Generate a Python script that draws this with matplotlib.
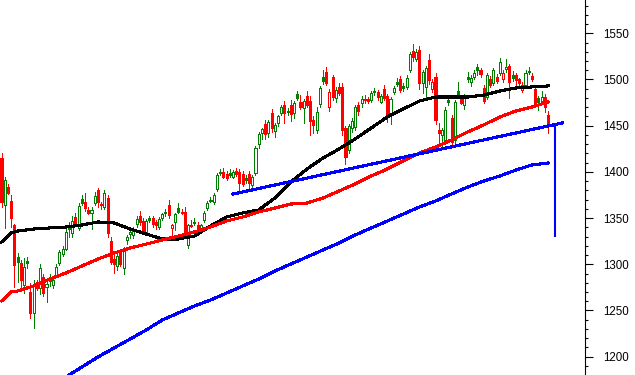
import matplotlib
matplotlib.use("Agg")
import matplotlib.pyplot as plt
from matplotlib.patches import Rectangle
from matplotlib.ticker import MultipleLocator

plt.rcParams['font.family'] = ['Liberation Sans', 'DejaVu Sans']

# ---- daily OHLC (bar index = position in list) ----
opens = [1415, 1364, 1384, 1368, 1342, 1308, 1301, 1278, 1304, 1270,
         1247, 1281, 1274, 1286, 1275, 1285, 1278, 1288, 1301, 1311,
         1317, 1341, 1334, 1351, 1339, 1371, 1367, 1359, 1356, 1366,
         1380, 1365, 1362, 1372, 1325, 1306, 1298, 1313, 1296, 1326,
         1333, 1332, 1344, 1352, 1347, 1335, 1350, 1350, 1346, 1340,
         1350, 1357, 1364, 1339, 1346, 1361, 1357, 1357, 1321, 1343,
         1346, 1343, 1339, 1348, 1361, 1370, 1367, 1381, 1400, 1400,
         1398, 1399, 1395, 1401, 1400, 1398, 1393, 1398, 1386, 1399,
         1430, 1442, 1452, 1442, 1464, 1444, 1453, 1464, 1472, 1466,
         1472, 1464, 1484, 1476, 1469, 1482, 1477, 1456, 1445, 1473,
         1503, 1508, 1470, 1503, 1480, 1492, 1492, 1447, 1424, 1447,
         1449, 1472, 1475, 1479, 1479, 1478, 1488, 1486, 1476, 1490,
         1482, 1464, 1486, 1497, 1501, 1493, 1492, 1510, 1531, 1522,
         1532, 1496, 1492, 1521, 1490, 1503, 1445, 1440, 1434, 1478,
         1458, 1434, 1488, 1480, 1472, 1503, 1497, 1503, 1513, 1510,
         1491, 1481, 1501, 1496, 1503, 1507, 1500, 1511, 1515, 1505,
         1505, 1500, 1489, 1494, 1509, 1504, 1490, 1480, 1477, 1481,
         1462]
highs = [1420, 1395, 1387, 1375, 1344, 1312, 1305, 1307, 1308, 1280,
         1283, 1283, 1300, 1290, 1281, 1290, 1285, 1300, 1316, 1320,
         1338, 1346, 1352, 1355, 1366, 1375, 1377, 1362, 1362, 1378,
         1383, 1367, 1380, 1375, 1330, 1310, 1311, 1316, 1319, 1332,
         1337, 1340, 1352, 1358, 1350, 1349, 1352, 1352, 1348, 1351,
         1356, 1360, 1370, 1344, 1356, 1366, 1360, 1362, 1344, 1348,
         1350, 1346, 1344, 1358, 1368, 1373, 1377, 1399, 1403, 1404,
         1401, 1403, 1402, 1404, 1403, 1401, 1397, 1401, 1397, 1428,
         1443, 1448, 1456, 1456, 1468, 1453, 1462, 1472, 1477, 1469,
         1478, 1477, 1487, 1483, 1479, 1487, 1482, 1460, 1470, 1493,
         1510, 1514, 1490, 1505, 1492, 1496, 1496, 1450, 1452, 1458,
         1472, 1476, 1482, 1483, 1481, 1487, 1491, 1489, 1484, 1494,
         1484, 1481, 1493, 1502, 1504, 1496, 1505, 1530, 1538, 1533,
         1536, 1510, 1515, 1528, 1500, 1507, 1453, 1448, 1470, 1482,
         1462, 1478, 1497, 1483, 1484, 1508, 1505, 1510, 1517, 1512,
         1494, 1507, 1504, 1512, 1506, 1523, 1510, 1522, 1517, 1509,
         1507, 1502, 1497, 1510, 1514, 1507, 1492, 1482, 1487, 1484,
         1466]
lows = [1362, 1339, 1376, 1340, 1275, 1281, 1274, 1269, 1296, 1242,
        1231, 1272, 1268, 1266, 1259, 1277, 1274, 1286, 1299, 1309,
        1315, 1330, 1330, 1343, 1337, 1364, 1358, 1354, 1338, 1364,
        1362, 1360, 1360, 1330, 1300, 1291, 1294, 1298, 1290, 1322,
        1328, 1328, 1340, 1343, 1333, 1333, 1346, 1340, 1338, 1338,
        1348, 1352, 1350, 1326, 1337, 1356, 1354, 1333, 1318, 1340,
        1343, 1336, 1336, 1346, 1359, 1367, 1365, 1379, 1397, 1393,
        1391, 1394, 1393, 1396, 1380, 1385, 1388, 1383, 1381, 1397,
        1426, 1436, 1436, 1438, 1443, 1438, 1450, 1462, 1453, 1462,
        1455, 1458, 1478, 1468, 1453, 1470, 1440, 1442, 1442, 1470,
        1495, 1494, 1466, 1478, 1476, 1483, 1440, 1408, 1420, 1443,
        1445, 1462, 1470, 1475, 1474, 1476, 1483, 1478, 1474, 1478,
        1454, 1452, 1484, 1493, 1486, 1488, 1490, 1508, 1520, 1520,
        1490, 1485, 1480, 1495, 1486, 1452, 1432, 1428, 1430, 1472,
        1427, 1430, 1480, 1473, 1468, 1497, 1493, 1500, 1505, 1503,
        1474, 1479, 1492, 1494, 1496, 1505, 1497, 1508, 1480, 1498,
        1490, 1494, 1486, 1492, 1506, 1498, 1473, 1467, 1474, 1465,
        1442]
closes = [1367, 1391, 1377, 1350, 1299, 1302, 1283, 1297, 1301, 1247,
          1277, 1274, 1296, 1269, 1279, 1282, 1283, 1297, 1313, 1317,
          1335, 1338, 1347, 1345, 1363, 1366, 1361, 1356, 1359, 1374,
          1367, 1364, 1377, 1334, 1302, 1300, 1309, 1300, 1317, 1330,
          1335, 1337, 1349, 1346, 1335, 1347, 1348, 1344, 1342, 1349,
          1354, 1355, 1353, 1342, 1354, 1357, 1356, 1334, 1343, 1341,
          1345, 1337, 1342, 1356, 1366, 1368, 1375, 1397, 1399, 1395,
          1393, 1397, 1400, 1398, 1388, 1387, 1391, 1388, 1395, 1426,
          1441, 1446, 1441, 1454, 1448, 1451, 1460, 1470, 1464, 1465,
          1463, 1475, 1480, 1470, 1477, 1472, 1455, 1451, 1465, 1491,
          1498, 1496, 1486, 1481, 1489, 1485, 1445, 1416, 1450, 1455,
          1470, 1466, 1479, 1478, 1477, 1485, 1486, 1481, 1482, 1480,
          1459, 1479, 1491, 1495, 1489, 1491, 1502, 1528, 1524, 1530,
          1496, 1508, 1512, 1499, 1497, 1456, 1442, 1445, 1467, 1476,
          1432, 1476, 1484, 1475, 1482, 1501, 1502, 1507, 1510, 1506,
          1477, 1505, 1494, 1510, 1498, 1519, 1507, 1514, 1497, 1502,
          1499, 1496, 1494, 1507, 1508, 1500, 1475, 1476, 1481, 1470,
          1451]

# ---- moving averages (sampled at bar indices) ----
ma_idx = [0, 3, 5, 10, 15, 20, 25, 30, 35, 40, 45, 50, 55, 60, 65, 70, 75,
          80, 85, 90, 95, 100, 105, 110, 115, 120, 125, 130, 135, 140, 145,
          150, 155, 160, 165, 170]
ma50 = [1324.1, 1333.9, 1336.0, 1338.2, 1339.3, 1340.3, 1342.5, 1345.8,
        1344.7, 1338.2, 1332.8, 1327.4, 1327.4, 1330.6, 1341.4, 1351.2,
        1355.5, 1358.8, 1371.7, 1389.0, 1403.1, 1415.0, 1424.8, 1435.6,
        1447.5, 1459.4, 1468.1, 1476.7, 1481.0, 1481.0, 1481.0, 1483.2,
        1487.5, 1490.8, 1491.9, 1493.0]
ma100 = [1260.3, 1270.0, 1271.1, 1276.5, 1284.1, 1290.6, 1298.1, 1305.7,
         1312.2, 1317.6, 1321.9, 1326.3, 1330.6, 1335.0, 1340.3, 1346.8,
         1351.2, 1356.6, 1360.9, 1365.2, 1366.3, 1371.7, 1379.3, 1386.9,
         1395.5, 1403.1, 1411.8, 1420.4, 1426.9, 1434.5, 1443.2, 1450.8,
         1459.4, 1465.9, 1470.2, 1475.6]
ma200_idx = [20, 25, 30, 35, 40, 45, 50, 55, 60, 65, 70, 75, 80, 85, 90, 95,
             100, 105, 110, 115, 120, 125, 130, 135, 140, 145, 150, 155, 160,
             165, 170]
ma200 = [1178.0, 1188.8, 1199.7, 1209.4, 1219.1, 1228.9, 1239.7, 1247.3,
         1254.9, 1261.3, 1268.9, 1276.5, 1284.0, 1292.7, 1300.3, 1307.9,
         1315.5, 1323.0, 1331.7, 1339.3, 1346.8, 1354.4, 1362.0, 1368.5,
         1376.1, 1383.6, 1390.1, 1395.5, 1402.0, 1407.5, 1409.6]

# ---- trendline and vertical target line ----
trend_idx = [72, 174.5]
trend_val = [1376, 1453]
target_idx = [172.3, 172.3]
target_val = [1452, 1330]

yticks = [1200, 1250, 1300, 1350, 1400, 1450, 1500, 1550]

GREEN = '#008000'
RED = '#ff0000'

fig = plt.figure(figsize=(6.35, 3.75), dpi=100)
ax = fig.add_axes([0, 0, 585 / 635, 1])

w = 0.64
for i, (o, h, l, c) in enumerate(zip(opens, highs, lows, closes)):
    prev = closes[i - 1] if i > 0 else o
    col = GREEN if c > prev else RED
    ax.vlines(i, l, h, color=col, linewidth=0.72, zorder=2,
              antialiased=False)
    bottom = min(o, c)
    height = max(abs(c - o), 0.9)
    face = col if c < o else 'white'
    ax.add_patch(Rectangle((i - w / 2, bottom), w, height, facecolor=face,
                           edgecolor=col, linewidth=0.72, zorder=3,
                           antialiased=False))

lw = 1.5
ax.plot(ma_idx, ma50, color='black', linewidth=lw, zorder=4,
        antialiased=False)
ax.plot(ma_idx, ma100, color=RED, linewidth=lw, zorder=4, antialiased=False)
ax.plot(ma200_idx, ma200, color='#0000ff', linewidth=lw, zorder=4,
        antialiased=False)
ax.plot(trend_idx, trend_val, color='#0000ff', linewidth=lw, zorder=5,
        antialiased=False)
ax.plot(target_idx, target_val, color='#0000ff', linewidth=1.5, zorder=5,
        antialiased=True, solid_capstyle='butt')

ax.set_ylim(1180.2, 1586.0)
ax.set_xlim(-0.47, 181.5)
for sp in ['left', 'top', 'bottom']:
    ax.spines[sp].set_visible(False)
ax.spines['right'].set_linewidth(0.8)
ax.yaxis.tick_right()
ax.set_yticks(yticks)
ax.set_yticklabels([str(v) for v in yticks])
ax.yaxis.set_minor_locator(MultipleLocator(10))
ax.tick_params(axis='y', which='major', length=5.8, width=0.8, pad=7,
               labelsize=8.3, direction='out', colors='black')
ax.tick_params(axis='y', which='minor', length=2.5, width=0.8,
               direction='out')
ax.set_xticks([])
ax.tick_params(axis='x', which='both', bottom=False, labelbottom=False)

fig.savefig('out.png', dpi=100)
